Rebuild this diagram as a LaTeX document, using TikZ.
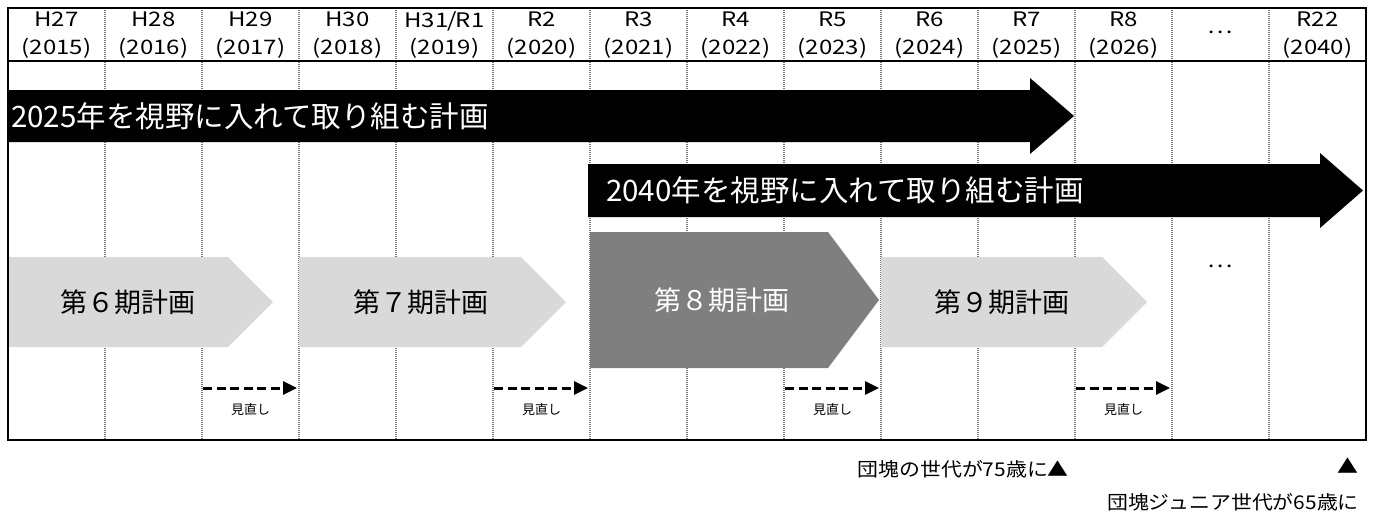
\documentclass[tikz,border=0pt]{standalone}
\usepackage{fontspec}
\setmainfont{Noto Sans CJK JP}
\newfontfamily\widefont[FakeStretch=1.2]{Noto Sans CJK JP}
\newfontfamily\midfont[FakeStretch=1.1]{Noto Sans CJK JP}
\usetikzlibrary{arrows.meta}
\definecolor{lightplan}{HTML}{D9D9D9}
\definecolor{darkplan}{HTML}{7F7F7F}
\definecolor{divgray}{HTML}{7A7A7A}
\begin{document}
\begin{tikzpicture}[x=1pt,y=-1pt,
  hdr/.style={font=\widefont\fontsize{20}{27.5}\selectfont, align=center, inner sep=0pt},
  bigtxt/.style={font=\fontsize{29.5}{32}\selectfont, text=white, anchor=west, inner sep=0pt},
  plantxt/.style={font=\fontsize{27}{30}\selectfont, inner sep=0pt},
  revtxt/.style={font=\fontsize{13}{15}\selectfont, inner sep=0pt},
  bottxt/.style={font=\midfont\fontsize{19}{22}\selectfont, inner sep=0pt},
  reviewarrow/.style={line width=3pt, dash pattern=on 9pt off 4.5pt, -{Triangle[length=14pt,width=13pt]}},
  divider/.style={divgray, line width=1.3pt, dash pattern=on 1.2pt off 0.8pt},
  framebox/.style={black, line width=1.6pt},
  bigarrow/.style={fill=black},
  lightarrow/.style={fill=lightplan},
  darkarrow/.style={fill=darkplan}
]
\useasboundingbox (0,0) rectangle (1373,515);

% dividers
\foreach \k in {1,...,13}{
  \draw[divider] ({8+97*\k},8) -- ({8+97*\k},440);
}
% header separator
\draw[framebox] (8,61) -- (1366,61);

% header labels
\foreach \i/\a/\b in {1/H27/(2015),2/H28/(2016),3/H29/(2017),4/H30/(2018),5/{H31\kern-1pt/\kern-1pt R1}/(2019),6/R2/(2020),7/R3/(2021),8/R4/(2022),9/R5/(2023),10/R6/(2024),11/R7/(2025),12/R8/(2026),14/R22/(2040)}{
  \node[hdr] (h\i) at ({8+97*(\i-0.5)},35) {\a\\\b};
}
\node[hdr] (h13) at ({8+97*12.5},32) {…};

% 2025 arrow
\fill[bigarrow] (8,90) -- (1030,90) -- (1030,78) -- (1074,116) -- (1030,154) -- (1030,142) -- (8,142) -- cycle;
\node[bigtxt] (t2025) at (11,116) {2025年を視野に入れて取り組む計画};

% 2040 arrow
\fill[bigarrow] (588,164) -- (1320,164) -- (1320,153) -- (1363,190.5) -- (1320,228) -- (1320,217) -- (588,217) -- cycle;
\node[bigtxt] (t2040) at (606,190.5) {2040年を視野に入れて取り組む計画};

% plan arrows
\fill[lightarrow] (8,257) -- (228,257) -- (273,302) -- (228,347) -- (8,347) -- cycle;
\node[plantxt] (p6) at (128,302) {第６期計画};
\fill[lightarrow] (299,257) -- (521,257) -- (566,302) -- (521,347) -- (299,347) -- cycle;
\node[plantxt] (p7) at (421,302) {第７期計画};
\fill[darkarrow] (590,232) -- (828,232) -- (879,300) -- (828,368) -- (590,368) -- cycle;
\node[plantxt, text=white] (p8) at (722,300) {第８期計画};
\fill[lightarrow] (881,257) -- (1102,257) -- (1147,302) -- (1102,347) -- (881,347) -- cycle;
\node[plantxt] (p9) at (1002,302) {第９期計画};
\node[hdr] (dots) at (1220,266) {…};

% review arrows
\foreach \j/\c in {1/3,2/6,3/9,4/12}{
  \coordinate (rs\j) at ({8+97*(\c-1)+1},388);
  \coordinate (re\j) at ({8+97*\c-2},388);
  \draw[reviewarrow] (rs\j) -- (re\j);
  \node[revtxt] (rv\j) at ({8+97*(\c-0.5)},410) {見直し};
}

% frame
\draw[framebox] (8,8) rectangle (1366,440);

% bottom notes
\node[bottxt, anchor=east] (n75) at (1069,469) {団塊の世代が75歳に▲};
\node[bottxt, anchor=east] (tri2) at (1359,466) {▲};
\node[bottxt, anchor=east] (n65) at (1359,502) {団塊ジュニア世代が65歳に};
\end{tikzpicture}
\end{document}
